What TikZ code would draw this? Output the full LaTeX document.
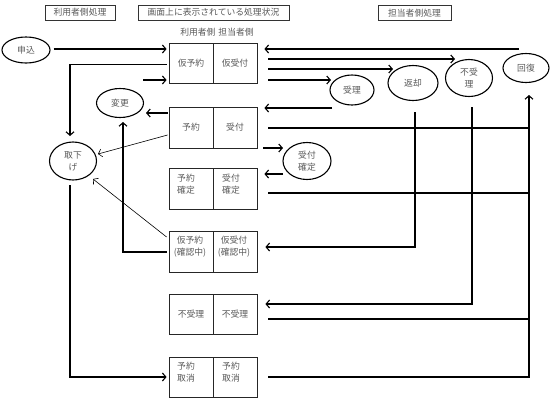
\documentclass[tikz,border=0pt]{standalone}
\usepackage{fontspec}
\newfontfamily\jp{Noto Sans CJK JP}
\usetikzlibrary{shapes.geometric,arrows.meta,calc}
\begin{document}
\begin{tikzpicture}[x=1pt,y=-1pt,
  every node/.style={font=\jp\fontsize{8.8}{12}\selectfont, text=black!65, inner sep=0pt},
  cell/.style={draw=black!85, line width=0.8pt, minimum width=44pt},
  hdr/.style={draw=black!80, line width=0.7pt, minimum height=15pt},
  ell/.style={draw=black, ellipse, line width=1.1pt, align=center},
  txt/.style={align=left},
  conn/.style={line width=1.1pt, draw=black},
  arr/.style={conn, -{Straight Barb[length=3.5pt,width=8pt]}},
  thinarr/.style={line width=0.6pt, draw=black, -{Straight Barb[length=3.5pt,width=8pt]}}
]
\useasboundingbox (0,0) rectangle (552,400);

% headers
\node[hdr, minimum width=70pt] (h1) at (80,12.5) {利用者側処理};
\node[hdr, minimum width=151pt] (h2) at (213.5,12.5) {画面上に表示されている処理状況};
\node[hdr, minimum width=73pt] (h3) at (414.5,13) {担当者側処理};
\node (colhdr) at (217,32) {利用者側\hspace{3pt}担当者側};

% boxes
\node[cell, minimum height=40pt] (b1l) at (191,63) {};
\node[cell, minimum height=40pt] (b1r) at (235,63) {};
\node[cell, minimum height=41pt] (b2l) at (191,127.5) {};
\node[cell, minimum height=41pt] (b2r) at (235,127.5) {};
\node[cell, minimum height=41pt] (b3l) at (191,188.5) {};
\node[cell, minimum height=41pt] (b3r) at (235,188.5) {};
\node[cell, minimum height=41pt] (b4l) at (191,251.5) {};
\node[cell, minimum height=41pt] (b4r) at (235,251.5) {};
\node[cell, minimum height=40pt] (b5l) at (191,314) {};
\node[cell, minimum height=40pt] (b5r) at (235,314) {};
\node[cell, minimum height=40pt] (b6l) at (191,377) {};
\node[cell, minimum height=40pt] (b6r) at (235,377) {};

% box texts
\node (t1l) at (b1l) {仮予約};
\node (t1r) at (b1r) {仮受付};
\node (t2l) at (b2l) {予約};
\node (t2r) at (b2r) {受付};
\node[txt, anchor=west] (t3l) at ([shift={(-14,-4.5)}]b3l.center) {予約\\確定};
\node[txt, anchor=west] (t3r) at ([shift={(-13,-4.5)}]b3r.center) {受付\\確定};
\node[align=center] (t4l) at ([shift={(-1,-5)}]b4l.center) {仮予約\\(確認中)};
\node[align=center] (t4r) at ([shift={(-1,-5)}]b4r.center) {仮受付\\(確認中)};
\node (t5l) at (b5l) {不受理};
\node (t5r) at (b5r) {不受理};
\node[txt, anchor=west] (t6l) at ([shift={(-14,-4.5)}]b6l.center) {予約\\取消};
\node[txt, anchor=west] (t6r) at ([shift={(-13,-4.5)}]b6r.center) {予約\\取消};

% ellipses
\node[ell, minimum width=48pt, minimum height=26pt] (mous) at (26,50) {申込};
\node[ell, minimum width=47pt, minimum height=29pt] (henkou) at (120,103) {変更};
\node[ell, minimum width=47pt, minimum height=38pt] (torisage) at (73,161) {取下\\げ};
\node[ell, minimum width=44pt, minimum height=30pt] (juri) at (352,90) {受理};
\node[ell, minimum width=50pt, minimum height=35pt] (henkyaku) at (413,83) {返却};
\node[ell, minimum width=47pt, minimum height=37pt] (fujuri) at (469,78) {不受\\理};
\node[ell, minimum width=46pt, minimum height=29pt] (kaifuku) at (526,68) {回復};
\node[ell, minimum width=48pt, minimum height=37pt] (uk) at (307,161) {受付\\確定};

\coordinate (kv) at ([shift={(3,27)}]kaifuku.center);
\coordinate (c3) at (143,80);

% left side connectors
\draw[arr] ([shift={(3,-1)}]mous.east) -- ([shift={(-2,-14)}]b1l.west);
\draw[arr] ([shift={(-2,1.5)}]b1l.west) -| ([shift={(-3,-25)}]torisage.center);
\draw[arr] (c3) -- ([shift={(-2,17)}]b1l.west);
\draw[arr] ([shift={(-1,-14.5)}]b2l.west) -- ([shift={(26,10)}]henkou.center);
\draw[arr] ([shift={(-2,0.5)}]b4l.west) -| ([shift={(3,19)}]henkou.center);
\draw[thinarr] ([shift={(-1,7.5)}]b2l.west) -- ([shift={(25,-7)}]torisage.center);
\draw[thinarr] ([shift={(-2,-14.5)}]b4l.west) -- ([shift={(20,18)}]torisage.center);
\draw[arr] ([shift={(-3,24)}]torisage.center) |- ([shift={(-2,0)}]b6l.west);

% right side connectors
\draw[arr] ([shift={(-7,-19)}]kaifuku.center) -- ([shift={(7,-14)}]b1r.east);
\draw[arr] ([shift={(11,-4)}]b1r.east) -- ([shift={(-14,-19)}]fujuri.center);
\draw[arr] ([shift={(11,6)}]b1r.east) -- ([shift={(-20,-14)}]henkyaku.center);
\draw[arr] ([shift={(11,17)}]b1r.east) -- ([shift={(-21,-10)}]juri.center);
\draw[arr] ([shift={(-20,18)}]juri.center) -- ([shift={(7,-19.5)}]b2r.east);
\draw[conn] ([shift={(11,0.5)}]b2r.east) -- ([yshift=-0.5pt]kv |- b2r.east);
\draw[arr] ([shift={(6,20.5)}]b2r.east) -- ([shift={(-24,-13)}]uk.center);
\draw[arr] ([shift={(-24,13)}]uk.center) -- ([shift={(7,-14.5)}]b3r.east);
\draw[conn] ([shift={(11,4.5)}]b3r.east) -- ([yshift=-4.5pt]kv |- b3r.east);
\draw[arr] ([shift={(2,29)}]henkyaku.center) |- ([shift={(8,-4.5)}]b4r.east);
\draw[arr] ([shift={(3,29)}]fujuri.center) |- ([shift={(8,-10)}]b5r.east);
\draw[conn] ([shift={(11,5)}]b5r.east) -- ([yshift=-5pt]kv |- b5r.east);
\draw[arr] ([shift={(11,0)}]b6r.east) -| (kv);
\end{tikzpicture}
\end{document}
